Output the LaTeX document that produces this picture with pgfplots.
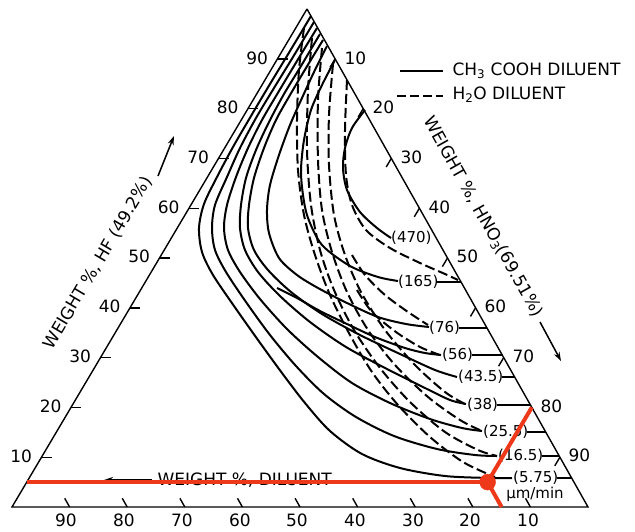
\documentclass[border=0pt]{standalone}
\usepackage{pgfplots}
\pgfplotsset{compat=1.18}
\usetikzlibrary{arrows.meta}
\usepackage{fontspec}
\setmainfont{DejaVu Sans}
\definecolor{hl}{RGB}{238,56,26}
\newcommand{\tl}{\fontsize{17}{17}\selectfont}
\newcommand{\rl}{\fontsize{15}{15}\selectfont}
\pgfplotsset{
  tk/.style={black,line width=1.4pt},
  sc/.style={black,line width=2pt,smooth},
  dc/.style={black,line width=2pt,smooth,dash pattern=on 10pt off 4pt},
  ar/.style={black,line width=1.5pt,-{Stealth[length=9pt,width=6pt]}},
}
\begin{document}
\begin{tikzpicture}
\useasboundingbox (0,0) rectangle (635pt,531pt);
\begin{axis}[at={(0,0)},anchor=south west,width=635pt,height=531pt,scale only axis,
  xmin=0,xmax=635,ymin=0,ymax=531,y dir=reverse,hide axis,clip=false]
% triangle
\addplot[tk] coordinates {(307,9)(588,507)(12,507)(307,9)};
% HF ticks (left side)
\addplot[tk] coordinates {(41.5,457.2)(51.5,457.2)};
\addplot[tk] coordinates {(71,407.4)(81,407.4)};
\addplot[tk] coordinates {(100.5,357.6)(110.5,357.6)};
\addplot[tk] coordinates {(130,307.8)(140,307.8)};
\addplot[tk] coordinates {(159.5,258)(169.5,258)};
\addplot[tk] coordinates {(189,208.2)(199,208.2)};
\addplot[tk] coordinates {(218.5,158.4)(228.5,158.4)};
\addplot[tk] coordinates {(248,108.6)(258,108.6)};
\addplot[tk] coordinates {(277.5,58.8)(287.5,58.8)};
% HNO3 ticks (right side)
\addplot[tk] coordinates {(335.1,58.8)(330,67.4)};
\addplot[tk] coordinates {(363.2,108.6)(358.1,117.2)};
\addplot[tk] coordinates {(391.3,158.4)(386.2,167)};
\addplot[tk] coordinates {(419.4,208.2)(414.3,216.8)};
\addplot[tk] coordinates {(447.5,258)(442.4,266.6)};
\addplot[tk] coordinates {(475.6,307.8)(470.5,316.4)};
\addplot[tk] coordinates {(503.7,357.6)(498.6,366.2)};
\addplot[tk] coordinates {(531.8,407.4)(526.7,416)};
\addplot[tk] coordinates {(559.9,457.2)(554.8,465.8)};
% diluent ticks (base)
\addplot[tk] coordinates {(530.4,507)(525.5,498.3)};
\addplot[tk] coordinates {(472.8,507)(467.9,498.3)};
\addplot[tk] coordinates {(415.2,507)(410.3,498.3)};
\addplot[tk] coordinates {(357.6,507)(352.7,498.3)};
\addplot[tk] coordinates {(300,507)(295.1,498.3)};
\addplot[tk] coordinates {(242.4,507)(237.5,498.3)};
\addplot[tk] coordinates {(184.8,507)(179.9,498.3)};
\addplot[tk] coordinates {(127.2,507)(122.3,498.3)};
\addplot[tk] coordinates {(69.6,507)(64.7,498.3)};
% tick labels
\node[anchor=east,font=\tl] at (axis cs:35.5,456) {10};
\node[anchor=east,font=\tl] at (axis cs:65,406) {20};
\node[anchor=east,font=\tl] at (axis cs:94.5,356) {30};
\node[anchor=east,font=\tl] at (axis cs:124,306) {40};
\node[anchor=east,font=\tl] at (axis cs:153.5,256) {50};
\node[anchor=east,font=\tl] at (axis cs:183,207) {60};
\node[anchor=east,font=\tl] at (axis cs:212.5,157) {70};
\node[anchor=east,font=\tl] at (axis cs:242,107) {80};
\node[anchor=east,font=\tl] at (axis cs:271.5,58) {90};
\node[anchor=west,font=\tl] at (axis cs:341,58) {10};
\node[anchor=west,font=\tl] at (axis cs:369,107) {20};
\node[anchor=west,font=\tl] at (axis cs:397,157) {30};
\node[anchor=west,font=\tl] at (axis cs:425,207) {40};
\node[anchor=west,font=\tl] at (axis cs:453,256) {50};
\node[anchor=west,font=\tl] at (axis cs:481,306) {60};
\node[anchor=west,font=\tl] at (axis cs:509,356) {70};
\node[anchor=west,font=\tl] at (axis cs:537,406) {80};
\node[anchor=west,font=\tl] at (axis cs:565,455) {90};
\node[anchor=north,font=\tl] at (axis cs:528,510) {10};
\node[anchor=north,font=\tl] at (axis cs:470,510) {20};
\node[anchor=north,font=\tl] at (axis cs:413,510) {30};
\node[anchor=north,font=\tl] at (axis cs:355,510) {40};
\node[anchor=north,font=\tl] at (axis cs:297,510) {50};
\node[anchor=north,font=\tl] at (axis cs:240,510) {60};
\node[anchor=north,font=\tl] at (axis cs:182,510) {70};
\node[anchor=north,font=\tl] at (axis cs:124,510) {80};
\node[anchor=north,font=\tl] at (axis cs:66,510) {90};
% axis titles
\node[rotate=59.4,font=\tl,inner sep=0pt] at (axis cs:98,263) {WEIGHT \%, HF (49.2\%)};
\addplot[ar] coordinates {(158,176)(174,136)};
\node[rotate=-60.6,font=\tl,inner sep=0pt] at (axis cs:483,217) {WEIGHT \%, HNO\textsubscript{3}(69.51\%)};
\addplot[ar] coordinates {(540,322)(561,361)};
\node[anchor=base west,font=\tl] at (axis cs:154,485) {WEIGHT \%, DILUENT};
\addplot[ar] coordinates {(152,480)(104,480)};
% legend
\addplot[black,line width=2pt] coordinates {(400,71)(443,71)};
\node[anchor=west,font=\tl] at (axis cs:449,71) {CH\textsubscript{3} COOH DILUENT};
\addplot[black,line width=2pt,dash pattern=on 9pt off 4pt] coordinates {(397,96)(443,96)};
\node[anchor=west,font=\tl] at (axis cs:449,95) {H\textsubscript{2}O DILUENT};
% solid curves (CH3COOH diluent)
\addplot[sc] coordinates {(365,110)(352,128)(345,148)(343,168)(347,190)(360,212)(377,228)(391,238)};
\addplot[sc] coordinates {(335,60)(322,85)(311,110)(304,140)(301,170)(303,195)(308,218)(322,245)(350,266)(378,277)(398,281)};
\addplot[sc] coordinates {(327,46)(314,72)(302,98)(290,125)(279,155)(270,185)(267,210)(269,233)(279,258)(297,275)(318,288)(347,303)(378,317)(406,324)(429,327)};
\addplot[sc] coordinates {(277,288)(297,298)(320,311)(347,324)(375,337)(405,348)(425,353)(441,355)};
\addplot[sc] coordinates {(323,40)(306,68)(290,95)(276,120)(264,148)(254,178)(249,205)(248,228)(254,250)(268,270)(291,292)(322,314)(360,335)(400,354)(435,370)(457,377)};
\addplot[sc] coordinates {(320,34)(301,66)(284,94)(269,122)(256,150)(246,178)(241,205)(240,228)(245,250)(258,272)(280,296)(310,322)(346,347)(387,369)(425,388)(450,400)(466,404)};
\addplot[sc] coordinates {(317,28)(297,61)(279,91)(262,120)(248,148)(236,177)(227,205)(224,228)(228,250)(240,272)(260,299)(287,329)(318,357)(352,383)(390,403)(430,419)(462,428)(482,431)};
\addplot[sc] coordinates {(314,22)(293,57)(274,88)(256,118)(240,148)(227,177)(215,205)(212,228)(215,250)(226,272)(246,302)(270,335)(296,366)(324,394)(356,417)(394,436)(437,449)(475,455)(497,456)};
\addplot[sc] coordinates {(311,16)(290,51)(270,84)(251,116)(233,147)(217,177)(204,204)(199,228)(202,252)(213,275)(234,306)(258,340)(282,373)(305,403)(330,431)(362,454)(400,468)(445,476)(490,478)(512,478)};
% dashed curves (H2O diluent)
\addplot[dc] coordinates {(347,80)(345,130)(346,175)(352,205)(366,230)(390,248)(420,263)(445,274)(458,280)};
\addplot[dc] coordinates {(352,255)(365,275)(385,295)(408,312)(428,325)};
\addplot[dc] coordinates {(357,290)(372,312)(396,332)(420,347)(440,355)};
\addplot[dc] coordinates {(333,64)(329,115)(329,165)(334,215)(345,255)(361,292)(385,330)(415,365)(445,392)(465,404)};
\addplot[dc] coordinates {(322,48)(318,100)(318,160)(322,210)(332,252)(347,292)(368,330)(395,365)(428,397)(460,420)(482,431)};
\addplot[dc] coordinates {(312,38)(308,90)(307,150)(311,205)(320,250)(334,290)(354,330)(380,368)(410,402)(445,432)(478,450)(497,456)};
\addplot[dc] coordinates {(304,28)(299,70)(297,120)(298,170)(304,215)(315,255)(330,295)(350,335)(372,372)(398,405)(430,437)(463,462)(495,477)};
% rate labels and leaders to the HF-HNO3 side
\node[anchor=west,font=\rl,inner sep=1pt] at (axis cs:390,238) {(470)};
\node[anchor=west,font=\rl,inner sep=1pt] at (axis cs:397,282) {(165)};
\addplot[sc] coordinates {(437,282)(461,282)};
\node[anchor=west,font=\rl,inner sep=1pt] at (axis cs:428,328) {(76)};
\addplot[sc] coordinates {(459,328)(487,328)};
\node[anchor=west,font=\rl,inner sep=1pt] at (axis cs:441,355) {(56)};
\addplot[sc] coordinates {(472,355)(502,355)};
\node[anchor=west,font=\rl,inner sep=1pt] at (axis cs:457,377) {(43.5)};
\addplot[sc] coordinates {(502,377)(515,377)};
\node[anchor=west,font=\rl,inner sep=1pt] at (axis cs:466,405) {(38)};
\addplot[sc] coordinates {(497,405)(530,405)};
\node[anchor=west,font=\rl,inner sep=1pt] at (axis cs:482,432) {(25.5)};
\addplot[sc] coordinates {(527,432)(546,432)};
\node[anchor=west,font=\rl,inner sep=1pt] at (axis cs:497,456) {(16.5)};
\addplot[sc] coordinates {(542,456)(559,456)};
\node[anchor=west,font=\rl,inner sep=1pt] at (axis cs:512,478) {(5.75)};
\addplot[sc] coordinates {(557,478)(572,478)};
\node[font=\rl] at (axis cs:535,494) {µm/min};
% highlighted composition (red)
\addplot[hl,line width=4pt] coordinates {(26.75,482.1)(487.6,482.1)};
\addplot[hl,line width=4pt] coordinates {(487.6,482.1)(531.8,407.4)};
\addplot[hl,line width=4pt] coordinates {(487.6,482.1)(501.6,507)};
\addplot[hl,only marks,mark=*,mark size=8pt] coordinates {(487.6,482.1)};
\end{axis}
\end{tikzpicture}
\end{document}
